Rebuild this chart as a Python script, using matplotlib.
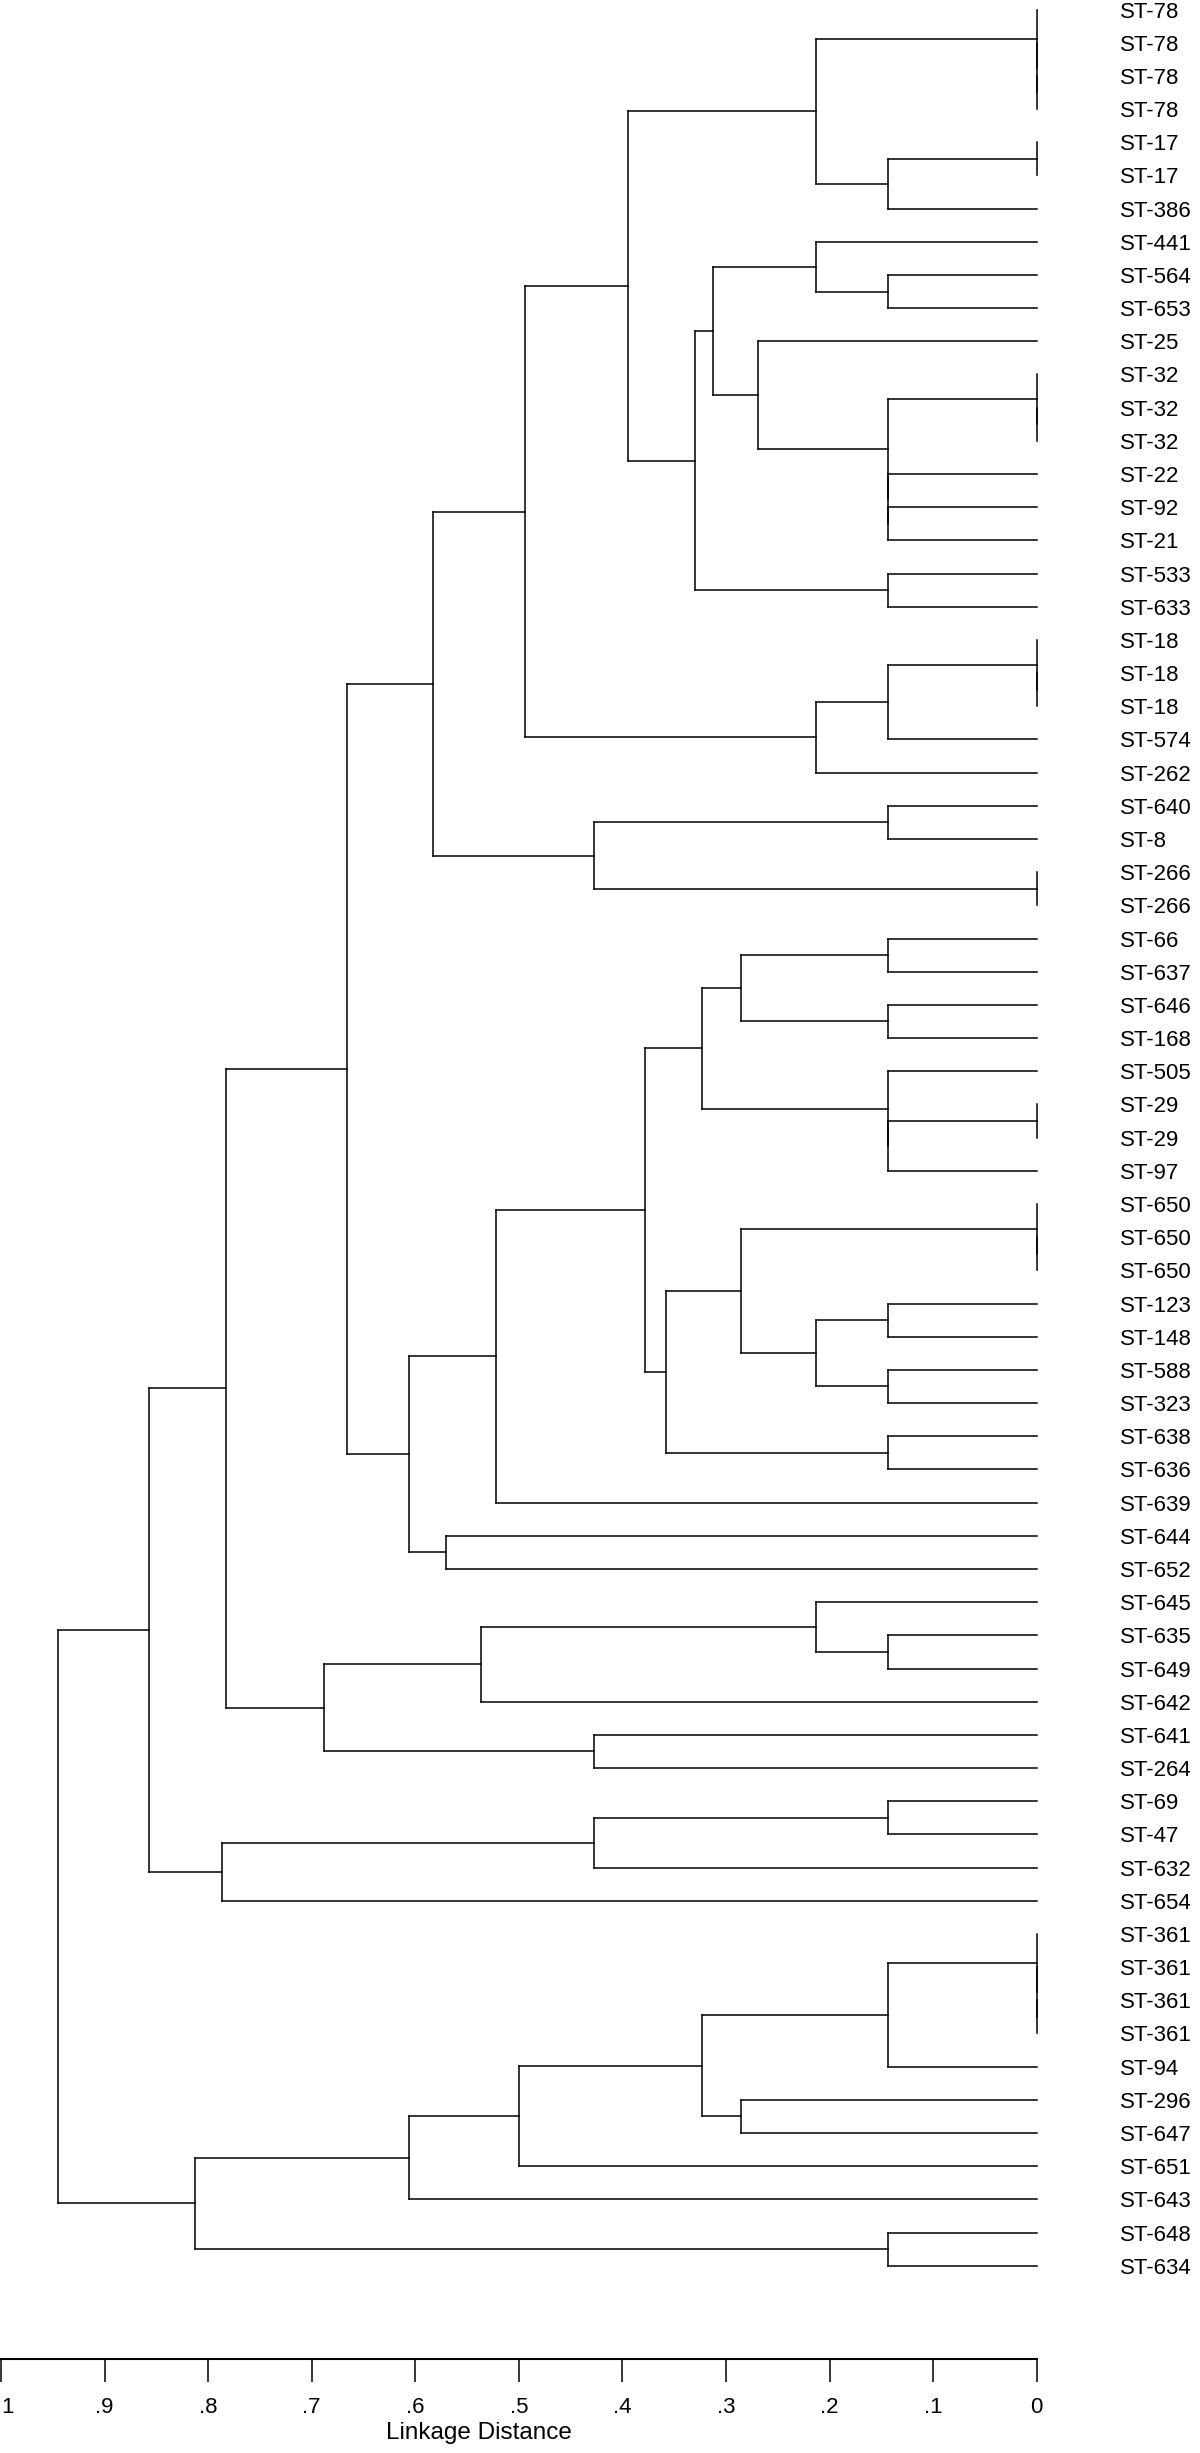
import matplotlib
matplotlib.use("Agg")
import matplotlib.pyplot as plt

plt.rcParams['font.family'] = ['Liberation Sans', 'DejaVu Sans']

# ---- data -------------------------------------------------------------
labels = [
    "ST-78", "ST-78", "ST-78", "ST-78", "ST-17", "ST-17", "ST-386", "ST-441",
    "ST-564", "ST-653", "ST-25", "ST-32", "ST-32", "ST-32", "ST-22", "ST-92",
    "ST-21", "ST-533", "ST-633", "ST-18", "ST-18", "ST-18", "ST-574", "ST-262",
    "ST-640", "ST-8", "ST-266", "ST-266", "ST-66", "ST-637", "ST-646", "ST-168",
    "ST-505", "ST-29", "ST-29", "ST-97", "ST-650", "ST-650", "ST-650", "ST-123",
    "ST-148", "ST-588", "ST-323", "ST-638", "ST-636", "ST-639", "ST-644", "ST-652",
    "ST-645", "ST-635", "ST-649", "ST-642", "ST-641", "ST-264", "ST-69", "ST-47",
    "ST-632", "ST-654", "ST-361", "ST-361", "ST-361", "ST-361", "ST-94", "ST-296",
    "ST-647", "ST-651", "ST-643", "ST-648", "ST-634",
]

# Subtrees: (linkage distance, left, right); integers are leaf indices.
st78 = (0.0, 0, (0.0, 1, (0.0, 2, 3)))
st17 = (0.1436, (0.0, 4, 5), 6)
grp_a = (0.2132, st78, st17)
grp_b1 = (0.2132, 7, (0.1436, 8, 9))
st32 = (0.0, 11, (0.0, 12, 13))
grp_b2 = (0.2687, 10, (0.1436, st32, (0.1436, 14, (0.1436, 15, 16))))
grp_b = (0.3124, grp_b1, grp_b2)
grp_c = (0.3300, grp_b, (0.1436, 17, 18))
grp_d = (0.3945, grp_a, grp_c)
st18 = (0.0, 19, (0.0, 20, 21))
grp_e = (0.2132, (0.1436, st18, 22), 23)
grp_f = (0.4944, grp_d, grp_e)
grp_g = (0.4278, (0.1436, 24, 25), (0.0, 26, 27))
top_cluster = (0.5825, grp_f, grp_g)

grp_m1 = (0.2857, (0.1436, 28, 29), (0.1436, 30, 31))
grp_m2 = (0.1436, 32, (0.1436, (0.0, 33, 34), 35))
grp_m3 = (0.3227, grp_m1, grp_m2)
st650 = (0.0, 36, (0.0, 37, 38))
grp_n1 = (0.2132, (0.1436, 39, 40), (0.1436, 41, 42))
grp_n2 = (0.2857, st650, grp_n1)
grp_n3 = (0.3583, grp_n2, (0.1436, 43, 44))
grp_m4 = (0.3780, grp_m3, grp_n3)
grp_m5 = (0.5218, grp_m4, 45)
mid_cluster = (0.6060, grp_m5, (0.5707, 46, 47))
upper_cluster = (0.6660, top_cluster, mid_cluster)

grp_l1 = (0.5366, (0.2132, 48, (0.1436, 49, 50)), 51)
low_cluster = (0.6884, grp_l1, (0.4278, 52, 53))
grp_ul = (0.7824, upper_cluster, low_cluster)
grp_k = (0.7868, (0.4278, (0.1436, 54, 55), 56), 57)
grp_ulk = (0.8570, grp_ul, grp_k)
st361 = (0.0, 58, (0.0, 59, (0.0, 60, 61)))
grp_p = (0.6060, (0.4996, (0.3227, (0.1436, st361, 62), (0.2857, 63, 64)), 65), 66)
bottom_cluster = (0.8127, grp_p, (0.1436, 67, 68))
root = (0.9452, grp_ulk, bottom_cluster)

xticks = [1.0, 0.9, 0.8, 0.7, 0.6, 0.5, 0.4, 0.3, 0.2, 0.1, 0.0]
xtick_labels = ["1", ".9", ".8", ".7", ".6", ".5", ".4", ".3", ".2", ".1", "0"]

# ---- figure -----------------------------------------------------------
W, H = 1200, 2453
fig = plt.figure(figsize=(W / 100, H / 100), dpi=100)
x_one, x_zero, y_axis = 1.0, 1036.7, 2359.0
ax = fig.add_axes([x_one / W, 1 - y_axis / H, (x_zero - x_one) / W, y_axis / H])

first_leaf_px, leaf_step = 9.5, 33.18
ax.set_xlim(1, 0)
ax.set_ylim((y_axis - first_leaf_px) / leaf_step, -first_leaf_px / leaf_step)

LW = 1.1
style = dict(color="black", lw=LW, clip_on=False, solid_capstyle="projecting")


def draw(node):
    if isinstance(node, int):
        return float(node), 0.0
    h, a, b = node
    ya, ha = draw(a)
    yb, hb = draw(b)
    ax.plot([ha, h], [ya, ya], **style)
    ax.plot([hb, h], [yb, yb], **style)
    ax.plot([h, h], [ya, yb], **style)
    return (ya + yb) / 2.0, h


draw(root)

for s in ("left", "top", "right"):
    ax.spines[s].set_visible(False)
ax.spines["bottom"].set_linewidth(1.5)

ax.set_xticks(xticks)
ax.set_xticklabels(xtick_labels)
ax.tick_params(axis="x", direction="out", length=16.3, width=1.1,
               pad=11, labelsize=16)
# keep the leftmost tick label inside the image, as in the original
ax.get_xticklabels()[0].set_horizontalalignment("left")

ax.yaxis.tick_right()
ax.set_yticks(range(len(labels)))
ax.set_yticklabels(labels)
ax.tick_params(axis="y", length=0, pad=59.8, labelsize=16)

ax.set_xlabel("Linkage Distance", fontsize=17.5)
ax.xaxis.set_label_coords((479 - x_one) / (x_zero - x_one), -(2433 - y_axis) / y_axis)
ax.xaxis.label.set_va("center")

fig.savefig("out.png", dpi=100, facecolor="white")
